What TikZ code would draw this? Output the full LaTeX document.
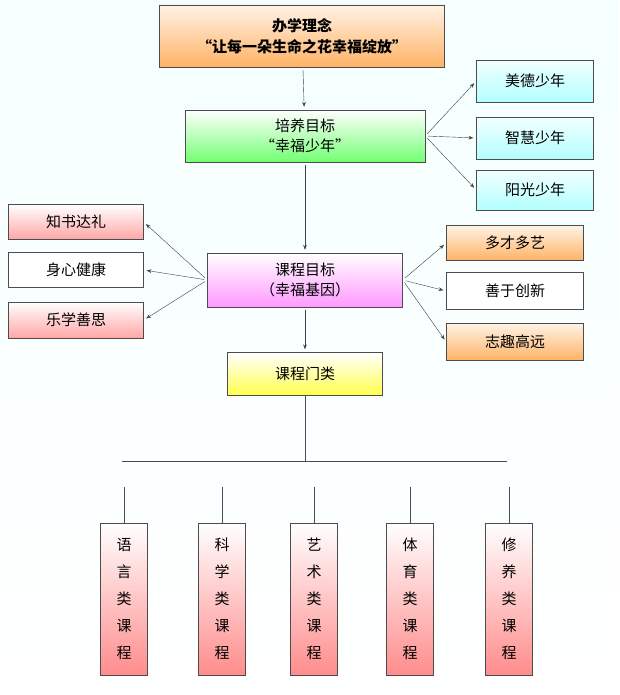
\documentclass[tikz,border=0pt]{standalone}
\usepackage{fontspec}
\setmainfont{Noto Sans CJK SC}
\usetikzlibrary{arrows.meta}
\tikzset{
  box/.style={draw=black!70, inner sep=1pt, align=center, font=\fontsize{15}{20}\selectfont},
  boxo/.style={box, top color=orange!10, bottom color=orange!60},
  boxg/.style={box, top color=white, bottom color=green!55},
  boxb/.style={box, top color=cyan!5, bottom color=cyan!30},
  boxp/.style={box, top color=white, bottom color=magenta!40},
  boxr/.style={box, top color=white, bottom color=red!35},
  boxw/.style={box, fill=white},
  boxy/.style={box, top color=white, bottom color=yellow!70},
  vbox/.style={box, top color=white, bottom color=red!45, minimum width=47pt, minimum height=152pt, font=\fontsize{15}{27}\selectfont},
  arr/.style={-Stealth, black!75, shorten <=3pt, shorten >=3pt},
}
\begin{document}
\begin{tikzpicture}[x=1pt,y=-1pt]
  \shade[top color=cyan!4, bottom color=white] (0,0) rectangle (619,695);
  \useasboundingbox (0,0) rectangle (619,695);
  \node[boxo, minimum width=285pt, minimum height=62pt, font=\fontsize{15}{21}\selectfont\bfseries] (idea) at (302,36) {办学理念\\“让每一朵生命之花幸福绽放”};
  \node[boxg, minimum width=240pt, minimum height=52pt] (goal) at (305,136) {培养目标\\“幸福少年”};
  \node[boxb, minimum width=117pt, minimum height=42pt] (r1) at (535,81) {美德少年};
  \node[boxb, minimum width=117pt, minimum height=42pt] (r2) at (535,138) {智慧少年};
  \node[boxb, minimum width=117pt, minimum height=40pt] (r3) at (535,190) {阳光少年};
  \node[boxp, minimum width=195pt, minimum height=54pt] (course) at (305,280) {课程目标\\（幸福基因）};
  \node[boxr, minimum width=135pt, minimum height=35pt] (l1) at (76,222) {知书达礼};
  \node[boxw, minimum width=135pt, minimum height=35pt] (l2) at (76,270) {身心健康};
  \node[boxr, minimum width=135pt, minimum height=36pt] (l3) at (76,320) {乐学善思};
  \node[boxo, minimum width=137pt, minimum height=35pt] (c1) at (515,243) {多才多艺};
  \node[boxw, minimum width=137pt, minimum height=37pt] (c2) at (515,291) {善于创新};
  \node[boxo, minimum width=137pt, minimum height=37pt] (c3) at (515,342) {志趣高远};
  \node[boxy, minimum width=155pt, minimum height=43pt] (kind) at (305,374) {课程门类};
  \coordinate (hub) at (305,461);
  \coordinate (hl) at (122,461);
  \coordinate (hr) at (507,461);
  % bottom columns
  \foreach \name/\x/\txt in {k1/124/语\\言\\类\\课\\程, k2/222/科\\学\\类\\课\\程, k3/314/艺\\术\\类\\课\\程,
                              k4/410/体\\育\\类\\课\\程, k5/509/修\\养\\类\\课\\程}{
    \node[vbox] (\name) at (\x,599) {\txt};
    \coordinate (\name-s) at (\x,487);
    \draw[black!70] (\name-s) -- (\name.north);
  }
  \draw[black!70] (kind) -- (hub);
  \draw[black!70] (hl) -- (hr);
  \draw[arr] (idea) -- (goal);
  \draw[arr] (goal) -- (course);
  \draw[arr] (course) -- (kind);
  \foreach \t in {r1,r2,r3} \draw[arr] (goal.east) -- (\t.west);
  \foreach \t in {l1,l2,l3} \draw[arr] (course.west) -- (\t.east);
  \foreach \t in {c1,c2,c3} \draw[arr] (course.east) -- (\t.west);
\end{tikzpicture}
\end{document}
